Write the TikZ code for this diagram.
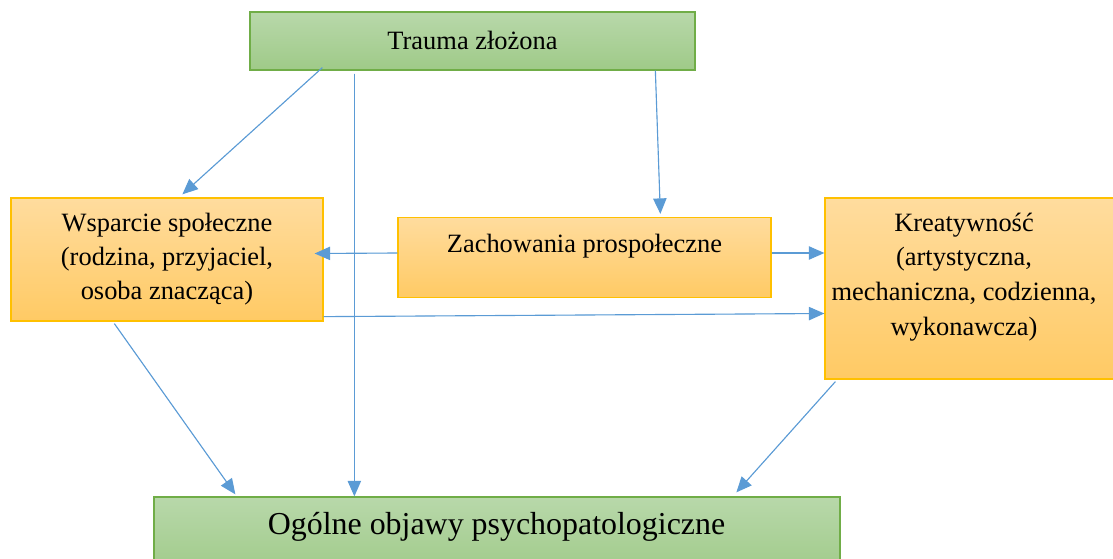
\documentclass[tikz,border=0pt]{standalone}
\usepackage{fontspec}
\setmainfont{Liberation Serif}
\newfontfamily\timesfont{Liberation Serif}
\usepackage{tikz}
\usetikzlibrary{positioning, arrows.meta, calc}
\definecolor{lineblue}{HTML}{5B9BD5}
\definecolor{greenline}{HTML}{70AD47}
\definecolor{greentop}{HTML}{B8D8AA}
\definecolor{greenbot}{HTML}{9FCA88}
\definecolor{orangeline}{HTML}{FFC000}
\definecolor{orangetop}{HTML}{FFDC9E}
\definecolor{orangebot}{HTML}{FFCA64}

\begin{document}
\begin{tikzpicture}[
            x=0.025cm, y=-0.025cm,
            every node/.style={align=center, font=\timesfont\fontsize{18.8}{24.2}\selectfont, inner sep=0pt},
            greenbox/.style={draw=greenline, line width=0.9pt, top color=greentop, bottom color=greenbot},
            orangebox/.style={draw=orangeline, line width=0.9pt, top color=orangetop, bottom color=orangebot},
            arrow/.style={-{Triangle[length=11pt, width=9.5pt]}, draw=lineblue, fill=lineblue, line width=0.8pt}
          ]
        \clip (0,0) rectangle (1113,559);

        \node[greenbox, minimum width=445*0.025cm, minimum height=58*0.025cm] (trauma) at (472.5,41) {};
        \node (traumatxt) at (472.5,40) {Trauma złożona};

        \node[orangebox, minimum width=312*0.025cm, minimum height=123*0.025cm] (wsparcie) at (167,259.5) {};
        \node (wsparcietxt) at (167,259) {Wsparcie społeczne\\(rodzina, przyjaciel,\\osoba znacząca)};

        \node[orangebox, minimum width=373*0.025cm, minimum height=80*0.025cm] (zachowania) at (584.5,257.5) {};
        \node (zachowaniatxt) at (584.5,246) {Zachowania prospołeczne};

        \node[orangebox, minimum width=300*0.025cm, minimum height=181*0.025cm] (kreatywnosc) at (975,288.5) {};
        \node[font=\timesfont\fontsize{18.8}{24.8}\selectfont] (kreatywnosctxt) at (964,277) {Kreatywność\\(artystyczna,\\mechaniczna, codzienna,\\wykonawcza)};

        \node[greenbox, minimum width=686*0.025cm, minimum height=80*0.025cm] (objawy) at (497,537) {};
        \node[font=\timesfont\fontsize{22.7}{27}\selectfont] (objawytxt) at (496.5,527) {Ogólne objawy psychopatologiczne};

        \draw[arrow] ($(trauma.south west)+(73,-3)$) -- ($(wsparcie.north west)+(172,-3)$);
        \draw[arrow] ($(trauma.south west)+(105,3)$) -- ($(objawy.north west)+(201,0)$);
        \draw[arrow] ($(trauma.south west)+(406,0)$) -- ($(zachowania.north west)+(263,-3)$);
        \draw[arrow] ($(zachowania.west)+(0,-4.5)$) -- ($(wsparcie.east)+(-9,-6)$);
        \draw[arrow] ($(zachowania.east)+(0,-4.5)$) -- ($(kreatywnosc.west)+(0,-35.5)$);
        \draw[arrow] ($(wsparcie.south east)+(0,-5)$) -- ($(kreatywnosc.west)+(0,25)$);
        \draw[arrow] ($(wsparcie.south west)+(104,2)$) -- ($(objawy.north west)+(82,-2)$);
        \draw[arrow] ($(kreatywnosc.south west)+(11,2)$) -- ($(objawy.north west)+(583,-4)$);

        \end{tikzpicture}
\end{document}
